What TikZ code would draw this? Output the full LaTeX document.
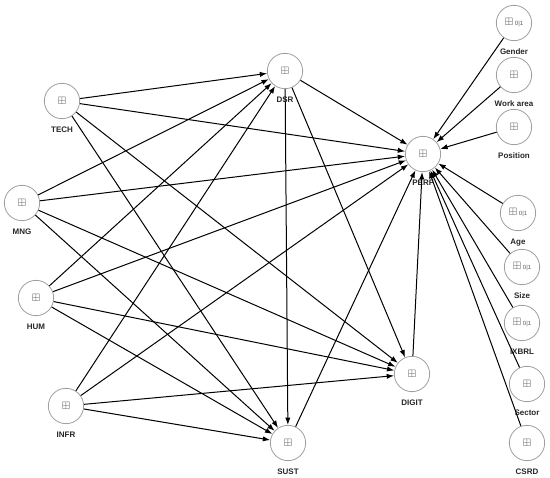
\documentclass[tikz,border=0pt]{standalone}
\usepackage{amssymb}
\usepackage{fontspec}
\setsansfont{Liberation Sans}
\usetikzlibrary{arrows.meta,positioning}

\tikzset{
  lv/.style={circle,draw=gray!75,line width=0.6pt,minimum size=26.5pt,inner sep=0pt,
    label={[font=\sffamily\bfseries\fontsize{6}{7}\selectfont,text=black!85,label distance=2.5pt]below:#1}},
  path/.style={draw=black,line width=0.75pt,-{Latex[length=5.5pt,width=4pt]}},
  bx/.style={font=\fontsize{8}{8}\selectfont,text=black!65}
}
\newcommand{\bplus}{$\boxplus$}
\newcommand{\bin}{$\boxplus$\,{\sffamily\fontsize{4.5}{5}\selectfont 0\textbar1}}

\begin{document}
\begin{tikzpicture}[x=0.75pt,y=0.75pt,yscale=-1,xscale=1]
	\useasboundingbox (0,0) rectangle (550,478);
	
	% exogenous constructs
	\node [lv=TECH,bx] (tech) at (62,101) {\bplus};
	\node [lv=MNG,bx] (mng) at (22,203) {\bplus};
	\node [lv=HUM,bx] (hum) at (36,298) {\bplus};
	\node [lv=INFR,bx] (infr) at (66,406) {\bplus};
	% mediators and outcome
	\node [lv=DSR,bx] (dsr) at (285,71) {\bplus};
	\node [lv=PERF,bx] (perf) at (423,154) {\bplus};
	\node [lv=DIGIT,bx] (digit) at (412,374) {\bplus};
	\node [lv=SUST,bx] (sust) at (288,443) {\bplus};
	% controls
	\node [lv=Gender,bx] (gender) at (514,23) {\bin};
	\node [lv=Work area,bx] (work) at (514,75) {\bplus};
	\node [lv=Position,bx] (position) at (514,127) {\bplus};
	\node [lv=Age,bx] (age) at (518,213) {\bin};
	\node [lv=Size,bx] (size) at (522,267) {\bin};
	\node [lv=iXBRL,bx] (ixbrl) at (522,323) {\bin};
	\node [lv=Sector,bx] (sector) at (527,384) {\bplus};
	\node [lv=CSRD,bx] (csrd) at (527,443) {\bplus};
	
	% paths from the drivers
	\foreach \src in {tech,mng,hum,infr}
	  \foreach \dst in {dsr,perf,digit,sust}
	    \draw [path] (\src) -- (\dst);
	
	% paths from the mediators
	\foreach \dst in {perf,digit,sust}
	  \draw [path] (dsr) -- (\dst);
	\draw [path] (digit) -- (perf);
	\draw [path] (sust) -- (perf);
	
	% control variables
	\foreach \ctl in {gender,work,position,age,size,ixbrl,sector,csrd}
	  \draw [path] (\ctl) -- (perf);
	
\end{tikzpicture}
\end{document}
